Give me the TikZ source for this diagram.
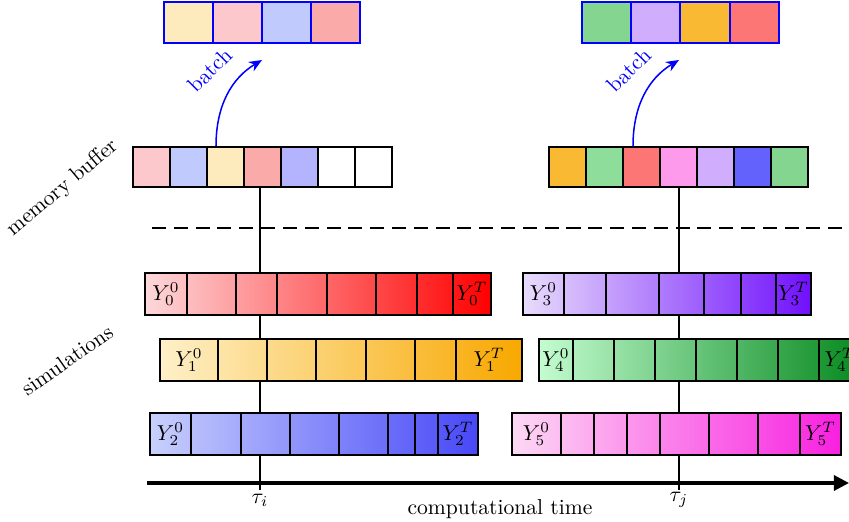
\documentclass[tikz,border=0pt]{standalone}
\usetikzlibrary{arrows.meta}
\definecolor{cPink}{HTML}{FCC8CC}
\definecolor{cLBlue}{HTML}{C0CAFC}
\definecolor{cYel}{HTML}{FDEBBE}
\definecolor{cSalm}{HTML}{FBAAAA}
\definecolor{cLav}{HTML}{B3B4FD}
\definecolor{cOra}{HTML}{F9B932}
\definecolor{cLGreen}{HTML}{8EDD9A}
\definecolor{cRed}{HTML}{FD7676}
\definecolor{cMag}{HTML}{FD9AEC}
\definecolor{cPurp}{HTML}{D0ADFD}
\definecolor{cBlue}{HTML}{6462FD}
\definecolor{cGreen}{HTML}{83D58F}
\definecolor{r0a}{HTML}{FDD8DA}\definecolor{r0b}{HTML}{FF0000}
\definecolor{r1a}{HTML}{FEF0C8}\definecolor{r1b}{HTML}{F8A800}
\definecolor{r2a}{HTML}{C8D0FC}\definecolor{r2b}{HTML}{4848F8}
\definecolor{r3a}{HTML}{E8DCFC}\definecolor{r3b}{HTML}{7010FC}
\definecolor{r4a}{HTML}{C4FCD0}\definecolor{r4b}{HTML}{088A20}
\definecolor{r5a}{HTML}{FDD8F4}\definecolor{r5b}{HTML}{F820E0}
\begin{document}
\begin{tikzpicture}[x=0.463pt,y=-0.463pt,
  mbcell/.style={draw, line width=0.8pt, inner sep=0pt, minimum width=37*0.463pt, minimum height=40*0.463pt},
  bcell/.style={draw=blue, line width=0.8pt, inner sep=0pt, minimum width=49*0.463pt, minimum height=41*0.463pt},
  simrow/.style={draw, line width=0.8pt, inner sep=0pt, minimum height=42*0.463pt},
  sep/.style={line width=0.8pt},
  vline/.style={line width=0.9pt},
  batcharrow/.style={blue, line width=0.7pt, -{Stealth[length=6pt,width=5pt]}},
  lbl/.style={font=\normalsize}]
\useasboundingbox (0,0) rectangle (849,522);

% time lines
\coordinate (ti) at (260,490);
\coordinate (tj) at (679,490);

% memory buffers
\foreach \c [count=\i] in {cPink,cLBlue,cYel,cSalm,cLav,white,white}
  \node[mbcell, fill=\c] (mbL\i) at ({133+37*(\i-1)+18.5},167) {};
\foreach \c [count=\i] in {cOra,cLGreen,cRed,cMag,cPurp,cBlue,cGreen}
  \node[mbcell, fill=\c] (mbR\i) at ({549+37*(\i-1)+18.5},167) {};

% batches
\foreach \c [count=\i] in {cYel,cPink,cLBlue,cSalm}
  \node[bcell, fill=\c] (bL\i) at ({164+49*(\i-1)+24.5},22.5) {};
\foreach \c [count=\i] in {cGreen,cPurp,cOra,cRed}
  \node[bcell, fill=\c] (bR\i) at ({582+49.25*(\i-1)+24.6},22.5) {};

\coordinate (bLend) at (262,60);
\coordinate (bRend) at (679,60);
\draw[batcharrow] (216,0 |- mbL3.north) .. controls (216,105) and (232,78) .. (bLend);
\draw[batcharrow] (633,0 |- mbR3.north) .. controls (633,105) and (649,78) .. (bRend);
\node[blue, rotate=45] (batchL) at (210,70) {batch};
\node[blue, rotate=45] (batchR) at (629,70) {batch};

% vertical lines
\draw[vline] (ti |- mbL4.south) -- (ti);
\draw[vline] (tj |- mbR4.south) -- (tj);

% dashed separator
\coordinate (dA) at (152,228);
\coordinate (dB) at (855,228);
\draw[line width=0.9pt, dash pattern=on 6.5pt off 3.6pt] (dA) -- (dB);

% simulation rows
\node[simrow, left color=r0a, right color=r0b, minimum width=346*0.463pt] (s0) at (318,294) {};
\foreach \x in {187,236,277,327,376,417,453} \draw[sep] (\x,0 |- s0.north) -- (\x,0 |- s0.south);
\node (s0a) at (166,294) {$Y_0^0$};
\node (s0b) at (472,294) {$Y_0^T$};

\node[simrow, left color=r1a, right color=r1b, minimum width=362*0.463pt] (s1) at (341,360) {};
\foreach \x in {218,267,316,366,415,456} \draw[sep] (\x,0 |- s1.north) -- (\x,0 |- s1.south);
\node (s1a) at (189,360) {$Y_1^0$};
\node (s1b) at (489,360) {$Y_1^T$};

\node[simrow, left color=r2a, right color=r2b, minimum width=328*0.463pt] (s2) at (314,434) {};
\foreach \x in {191,241,290,339,388,415,438} \draw[sep] (\x,0 |- s2.north) -- (\x,0 |- s2.south);
\node (s2a) at (170.5,434) {$Y_2^0$};
\node (s2b) at (458,434) {$Y_2^T$};

\node[simrow, left color=r3a, right color=r3b, minimum width=288*0.463pt] (s3) at (667,294) {};
\foreach \x in {564,606,659,704,741,776} \draw[sep] (\x,0 |- s3.north) -- (\x,0 |- s3.south);
\node (s3a) at (543.5,294) {$Y_3^0$};
\node (s3b) at (793.5,294) {$Y_3^T$};

\node[simrow, left color=r4a, right color=r4b, minimum width=321*0.463pt] (s4) at (699.5,360) {};
\foreach \x in {573,614,655,696,737,778,819} \draw[sep] (\x,0 |- s4.north) -- (\x,0 |- s4.south);
\node (s4a) at (556,360) {$Y_4^0$};
\node (s4b) at (840,360) {$Y_4^T$};

\node[simrow, left color=r5a, right color=r5b, minimum width=329*0.463pt] (s5) at (676.5,434) {};
\foreach \x in {561,594,627,660,709,758,800} \draw[sep] (\x,0 |- s5.north) -- (\x,0 |- s5.south);
\node (s5a) at (536.5,434) {$Y_5^0$};
\node (s5b) at (820.5,434) {$Y_5^T$};

% axis
\coordinate (axA) at (147,483);
\coordinate (axB) at (849,483);
\draw[line width=1.4pt, -{Triangle[length=7pt,width=7pt]}] (axA) -- (axB);
\node (tauI) at (260,500) {$\tau_i$};
\node (tauJ) at (679,500) {$\tau_j$};
\node (ctime) at (500,509) {computational time};

% side labels
\node[rotate=40] (mem) at (63,188) {memory buffer};
\node[rotate=35] (sims) at (67,360) {simulations};
\end{tikzpicture}
\end{document}
